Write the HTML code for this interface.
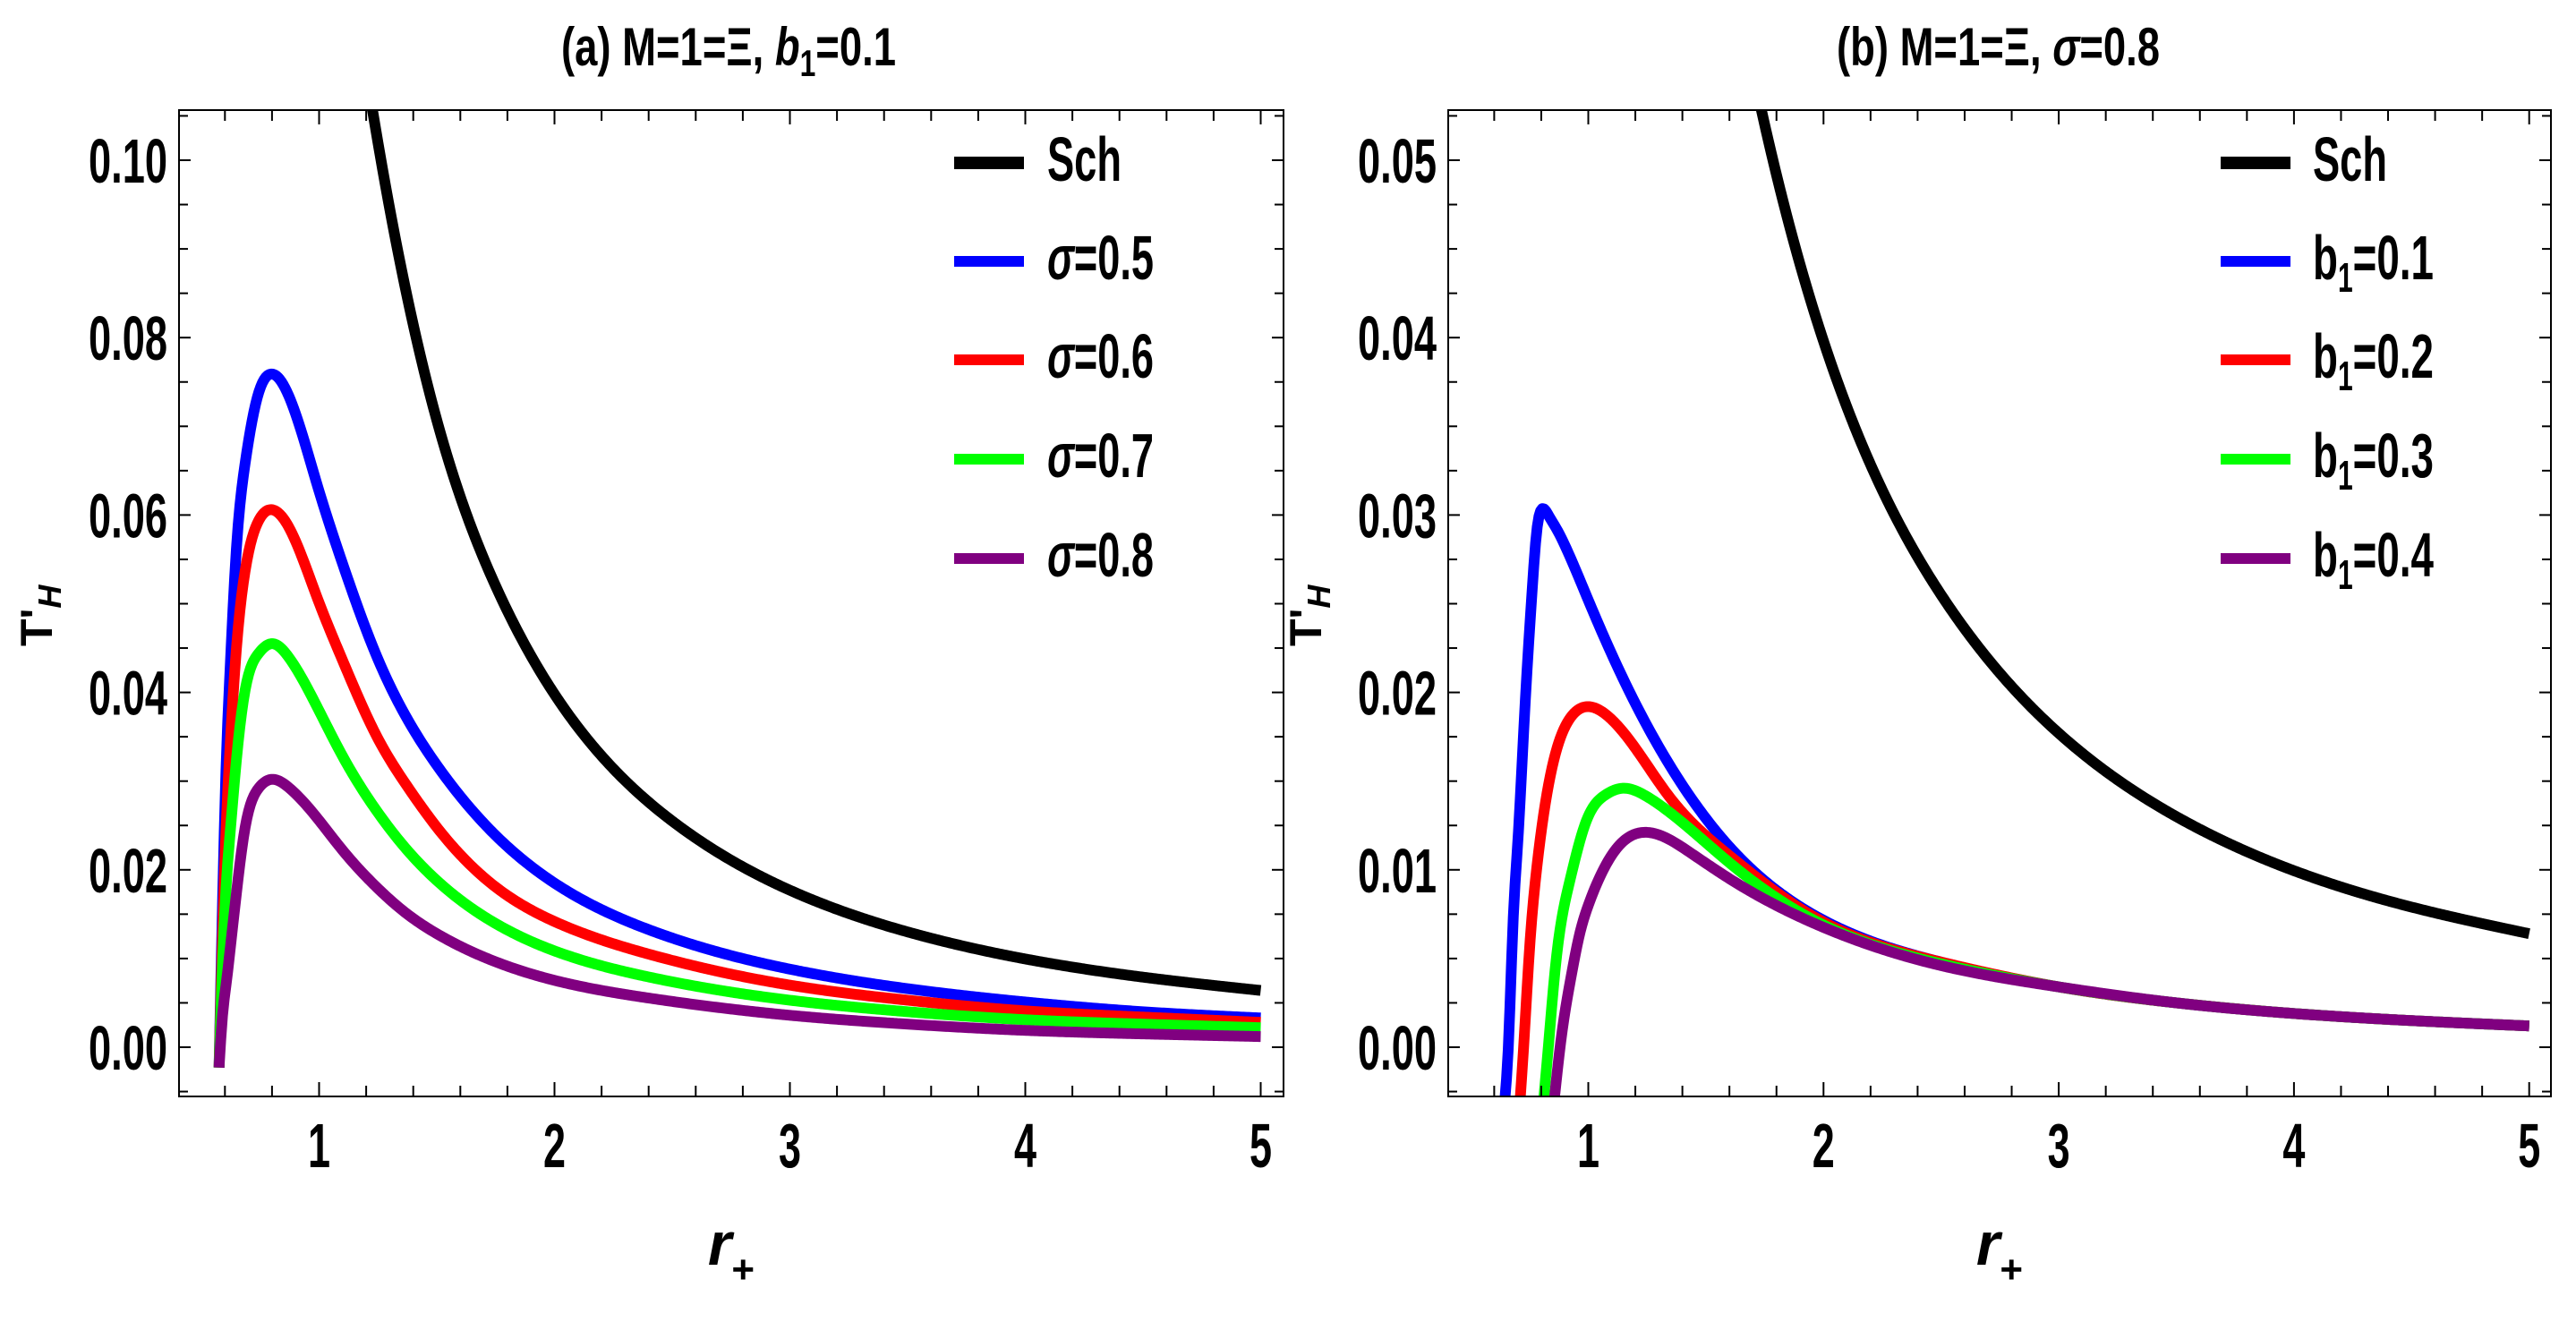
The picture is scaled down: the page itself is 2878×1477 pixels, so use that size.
<!DOCTYPE html>
<html><head><meta charset="utf-8"><style>
html,body{margin:0;padding:0;background:#fff;}
svg{display:block;}
text{font-family:"Liberation Sans Narrow","Liberation Sans",sans-serif;font-weight:bold;fill:#000;}
</style></head><body>
<svg id="chart" width="2878" height="1477" viewBox="0 0 2878 1477" xmlns="http://www.w3.org/2000/svg">
<defs>
<clipPath id="clipA"><rect x="200" y="123" width="1234" height="1102"/></clipPath>
<clipPath id="clipB"><rect x="1618" y="123" width="1232" height="1102"/></clipPath>
</defs>
<g id="panelA"></g>
<g id="panelB"></g>
</svg>
<script>
// ---- Panel (a) data ----
const xsA = [0.575,0.588,0.607,0.62,0.646,0.684,0.74,0.8,0.87,0.993,1.1,1.246,1.375,1.5,1.753,2.006,2.386,3,3.5,4,4.5,5];
const sig05 = [-0.0023,0.0141,0.0333,0.0415,0.0551,0.0655,0.0735,0.0759,0.0735,0.0633,0.0545,0.0440,0.0370,0.0318,0.0238,0.0184,0.0134,0.0088,0.0066,0.0051,0.0040,0.0033];
const sig06 = [-0.0023,0.011,0.026,0.033,0.044,0.0534,0.0592,0.0606,0.0587,0.0506,0.0436,0.0350,0.0294,0.0248,0.0180,0.0141,0.0106,0.0070,0.0053,0.0041,0.0034,0.0028];
const sig07 = [-0.0023,0.008,0.019,0.0235,0.0316,0.040,0.0443,0.0455,0.0440,0.0383,0.0328,0.0266,0.0222,0.0188,0.0139,0.0108,0.0080,0.0053,0.0040,0.0031,0.0026,0.0022];
const sig08 = [-0.0023,0.003,0.0075,0.0105,0.0167,0.0245,0.0291,0.0302,0.0293,0.0258,0.0222,0.0180,0.0150,0.0128,0.0096,0.0075,0.0056,0.0036,0.0026,0.0019,0.0015,0.0012];
const xsSchA = [1.2,1.25,1.5,1.75,2,2.25,2.5,3,3.5,4,4.5,5];
const schA = [0.110,0.102,0.0707,0.052,0.0398,0.0314,0.0255,0.0177,0.013,0.00995,0.0079,0.0064];
// ---- Panel (b) data ----
const xsB1 = [0.645,0.66,0.68,0.7,0.73,0.76,0.78,0.8,0.83,0.87,0.9,1.0,1.14,1.31,1.6,1.94,2.5,3,3.5,4,4.5,5];
const b01 = [-0.003,0,0.007,0.0115,0.0190,0.0255,0.0290,0.0303,0.0300,0.0291,0.0283,0.0252,0.0210,0.0167,0.0113,0.0076,0.0048,0.0034,0.0025,0.0019,0.0015,0.0012];
const xsB2 = [0.71,0.725,0.75,0.78,0.85,0.92,1.0,1.08,1.17,1.34,1.6,1.94,2.5,3,3.5,4,4.5,5];
const b02 = [-0.003,0,0.0055,0.010,0.016,0.0185,0.0192,0.0187,0.0174,0.0142,0.0108,0.0075,0.0048,0.0034,0.0025,0.0019,0.0015,0.0012];
const xsB3 = [0.81,0.83,0.86,0.92,0.99,1.07,1.15,1.24,1.34,1.6,1.94,2.5,3,3.5,4,4.5,5];
const b03 = [-0.003,0,0.0045,0.0093,0.0127,0.0142,0.0146,0.0142,0.0133,0.0104,0.0073,0.0047,0.0034,0.0025,0.0019,0.0015,0.0012];
const xsB4 = [0.855,0.88,0.93,0.96,1.0,1.06,1.12,1.26,1.43,1.6,1.94,2.5,3,3.5,4,4.5,5];
const b04 = [-0.003,0,0.0042,0.0062,0.0080,0.0099,0.0112,0.0121,0.0110,0.0095,0.0071,0.0046,0.0034,0.0025,0.0019,0.0015,0.0012];
const xsSchB = [1.7,1.75,2,2.25,2.5,3,3.5,4,4.5,5];
const schB = [0.055,0.052,0.0398,0.0314,0.0255,0.0177,0.013,0.00995,0.0079,0.0064];
// ticks
const xTickLabels = ["1","2","3","4","5"];
const yTickLabelsA = ["0.00","0.02","0.04","0.06","0.08","0.10"];
const yTickLabelsB = ["0.00","0.01","0.02","0.03","0.04","0.05"];
const legendA = ["Sch","σ=0.5","σ=0.6","σ=0.7","σ=0.8"];
const legendB = ["Sch","b1=0.1","b1=0.2","b1=0.3","b1=0.4"];

const NS = "http://www.w3.org/2000/svg";
function mk(tag, attrs, parent){const e=document.createElementNS(NS,tag);for(const k in attrs)e.setAttribute(k,attrs[k]);parent.appendChild(e);return e;}

// natural cubic spline
function spline(xs, ys){
  const n=xs.length, h=[], a=new Array(n).fill(0), b=new Array(n).fill(0), c=new Array(n).fill(0), r=new Array(n).fill(0);
  for(let i=0;i<n-1;i++) h.push(xs[i+1]-xs[i]);
  b[0]=1; b[n-1]=1;
  for(let i=1;i<n-1;i++){a[i]=h[i-1]; b[i]=2*(h[i-1]+h[i]); c[i]=h[i]; r[i]=6*((ys[i+1]-ys[i])/h[i]-(ys[i]-ys[i-1])/h[i-1]);}
  for(let i=1;i<n;i++){const m=a[i]/b[i-1]; b[i]-=m*c[i-1]; r[i]-=m*r[i-1];}
  const M=new Array(n); M[n-1]=r[n-1]/b[n-1];
  for(let i=n-2;i>=0;i--) M[i]=(r[i]-c[i]*M[i+1])/b[i];
  return function(x){
    let i=0; while(i<n-2 && x>xs[i+1]) i++;
    const hh=h[i], A=(xs[i+1]-x)/hh, B=(x-xs[i])/hh;
    return A*ys[i]+B*ys[i+1]+((A*A*A-A)*M[i]+(B*B*B-B)*M[i+1])*hh*hh/6;
  };
}

function panel(g, cfg){
  const X = v => cfg.x1 + (v-1)*cfg.ux;
  const Y = v => cfg.y0 - v*cfg.uy;
  const L=cfg.left,R=cfg.right,T=123,B=1225;
  const cg = mk('g',{'clip-path':`url(#${cfg.clip})`},g);
  cfg.series.forEach(s=>{
    const f=spline(s.xs,s.ys); let d='';
    const a=s.xs[0], b=s.xs[s.xs.length-1], N=600;
    for(let i=0;i<=N;i++){const x=a+(b-a)*i/N; d+=(i?'L':'M')+X(x).toFixed(2)+','+Y(f(x)).toFixed(2);}
    const p=mk('path',{d:d,fill:'none',stroke:s.color,'stroke-width':12,'stroke-linejoin':'round'},cg);
    
    
  });
  const fr=mk('rect',{x:L,y:T,width:R-L,height:B-T,fill:'none',stroke:'#000','stroke-width':2},g);
  
  
  for(let k=3;k<=25;k++){
    const v=k*0.2; const x=X(v); if(x<L||x>R) continue;
    const major=(k%5===0); const len=major?16:12;
    mk('line',{x1:x,y1:B,x2:x,y2:B-len,stroke:'#000','stroke-width':2},g);
    mk('line',{x1:x,y1:T,x2:x,y2:T+len,stroke:'#000','stroke-width':2},g);
  }
  xTickLabels.forEach((lab,i)=>{
    const t=mk('text',{x:X(i+1),y:1304,'font-size':70,'text-anchor':'middle',textLength:25,lengthAdjust:'spacingAndGlyphs'},g);
    t.textContent=lab;
    
    
  });
  for(let k=-2;k<=30;k++){
    const v=k*cfg.minor; const y=Y(v); if(y<T||y>B) continue;
    const major=(k%4===0); const len=major?13:10;
    mk('line',{x1:L,y1:y,x2:L+len,y2:y,stroke:'#000','stroke-width':2},g);
    mk('line',{x1:R,y1:y,x2:R-len,y2:y,stroke:'#000','stroke-width':2},g);
  }
  cfg.yLabels.forEach((lab,i)=>{
    const t=mk('text',{x:cfg.ylabX,y:Y(i*cfg.minor*4)+25,'font-size':70,'text-anchor':'end',textLength:88,lengthAdjust:'spacingAndGlyphs'},g);
    t.textContent=lab;
    
    
  });
  const lys=[182,292,402,513,624];
  const order=[cfg.series[4],cfg.series[0],cfg.series[1],cfg.series[2],cfg.series[3]];
  cfg.legend.forEach((lab,i)=>{
    const lg=mk('g',{},g);
    
    
    mk('line',{x1:cfg.legX,y1:lys[i],x2:cfg.legX+78,y2:lys[i],stroke:order[i].color,'stroke-width':i===0?14:12},lg);
    const t=mk('text',{x:cfg.legTX,y:lys[i]+20,'font-size':70},lg);
    if(lab.startsWith('b1')){
      t.setAttribute('textLength',135); t.setAttribute('lengthAdjust','spacingAndGlyphs');
      t.innerHTML='b<tspan font-size="46" dy="14">1</tspan><tspan dy="-14">'+lab.slice(2)+'</tspan>';
    } else if(lab.startsWith('σ')){
      t.setAttribute('textLength',119); t.setAttribute('lengthAdjust','spacingAndGlyphs');
      t.innerHTML='<tspan font-style="italic">σ</tspan>'+lab.slice(1);
    } else { t.setAttribute('textLength',83); t.setAttribute('lengthAdjust','spacingAndGlyphs'); t.textContent=lab; }
  });
  const tt=mk('text',{x:cfg.titleX,y:73,'font-size':60,textLength:cfg.titleW,lengthAdjust:'spacingAndGlyphs'},g);
  tt.innerHTML=cfg.title;
  
  
  const yt=mk('text',{x:0,y:0,'font-size':50,transform:`translate(${cfg.ytX},722) rotate(-90)`},g);
  yt.innerHTML='T\'<tspan font-style="italic" font-size="36" dy="10">H</tspan>';
  
  
  const xt=mk('text',{x:cfg.xtX,y:1413,'font-size':68,'text-anchor':'middle'},g);
  xt.innerHTML='<tspan font-style="italic">r</tspan><tspan font-size="44" dy="20">+</tspan>';
  
  
}

panel(document.getElementById('panelA'),{
  left:200,right:1434,x1:356.5,ux:263,y0:1170,uy:9910,minor:0.005,clip:'clipA',ylabX:187,
  legX:1066,legTX:1170,titleX:627,titleW:374,ytX:58,xtX:817,
  title:'(a) M=1=Ξ, <tspan font-style="italic">b</tspan><tspan font-size="42" dy="12">1</tspan><tspan dy="-12">=0.1</tspan>',
  yLabels:yTickLabelsA, legend:legendA,
  series:[
    {name:'curve-sigma-0.5',xs:xsA,ys:sig05,color:'#0000ff'},
    {name:'curve-sigma-0.6',xs:xsA,ys:sig06,color:'#ff0000'},
    {name:'curve-sigma-0.7',xs:xsA,ys:sig07,color:'#00ff00'},
    {name:'curve-sigma-0.8',xs:xsA,ys:sig08,color:'#800080'},
    {name:'curve-sch',xs:xsSchA,ys:schA,color:'#000000'}
  ]
});
panel(document.getElementById('panelB'),{
  left:1618,right:2850,x1:1774.5,ux:262.8,y0:1170,uy:19820,minor:0.0025,clip:'clipB',ylabX:1605,
  legX:2481,legTX:2584,titleX:2052,titleW:361,ytX:1476,xtX:2234,
  title:'(b) M=1=Ξ, <tspan font-style="italic">σ</tspan>=0.8',
  yLabels:yTickLabelsB, legend:legendB,
  series:[
    {name:'curve-b1-0.1',xs:xsB1,ys:b01,color:'#0000ff'},
    {name:'curve-b1-0.2',xs:xsB2,ys:b02,color:'#ff0000'},
    {name:'curve-b1-0.3',xs:xsB3,ys:b03,color:'#00ff00'},
    {name:'curve-b1-0.4',xs:xsB4,ys:b04,color:'#800080'},
    {name:'curve-sch',xs:xsSchB,ys:schB,color:'#000000'}
  ]
});
</script>
</body></html>
